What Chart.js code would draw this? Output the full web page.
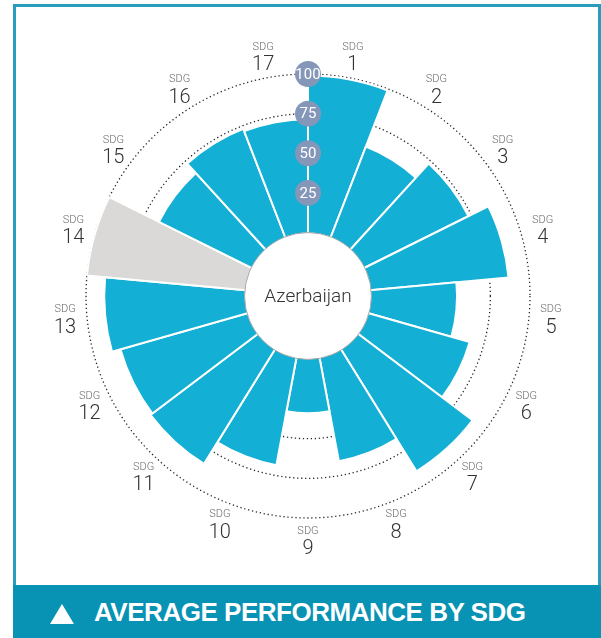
<!DOCTYPE html>
<html>
<head>
<meta charset="utf-8">
<script src="https://cdn.jsdelivr.net/npm/chart.js@4.4.1/dist/chart.umd.min.js"></script>
<style>
  html, body { margin: 0; padding: 0; background: #fff; }
  body { width: 601px; height: 638px; position: relative; overflow: hidden; }
  #frame { position: absolute; left: 13px; top: 4px; width: 588px; height: 590px;
           border: 3px solid #2a9cbc; border-bottom: none; box-sizing: border-box; }
  #chartBox { position: absolute; left: 0; top: 0; width: 601px; height: 638px; }
  #banner { position: absolute; left: 13px; top: 585px; width: 588px; height: 53px;
            background: #0892b3; color: #fff; }
  #tri { position: absolute; left: 37px; top: 19px; width: 0; height: 0;
         border-left: 12.5px solid transparent; border-right: 12.5px solid transparent;
         border-bottom: 20px solid #fff; }
  #title { position: absolute; left: 81px; top: 10px; line-height: 34px; white-space: nowrap;
           font-family: "Liberation Sans", Arial, sans-serif;
           font-weight: bold; font-size: 26px; }
</style>
</head>
<body>
<div id="frame"></div>
<div id="chartBox"><canvas id="c" width="601" height="638"></canvas></div>
<div id="banner"><div id="tri"></div><span id="title"></span></div>
<script>
// ---- data ----
const sdgNumbers = ['1','2','3','4','5','6','7','8','9','10','11','12','13','14','15','16','17'];
const scores     = [99, 61, 73, 87, 54, 66, 90, 66, 34, 68.5, 84.5, 83, 88.5, null, 65, 73, 71.5];
const tickValues = [25, 50, 75, 100];
const countryName = 'Azerbaijan';
const prefixLabel = 'SDG';
const chartTitle = 'AVERAGE PERFORMANCE BY SDG';

// styles
const BAR_BLUE = '#13afd4';
const NO_DATA_GREY = '#dad9d7';
const BADGE = '#8597b9';

const titleEl = document.getElementById('title');
titleEl.textContent = chartTitle;
// fit title to the width it occupies in the reference banner
(function fitTitle() {
  const target = 432;
  const w = titleEl.getBoundingClientRect().width;
  const ls = (target - w) / (chartTitle.length - 1);
  titleEl.style.letterSpacing = ls.toFixed(2) + 'px';
})();

const scaleMin = -40, scaleMax = 100;
const plotData = scores.map(v => v === null ? scaleMax : v);
const colors = scores.map(v => v === null ? NO_DATA_GREY : BAR_BLUE);

const overlay = {
  id: 'overlay',
  afterDatasetsDraw(chart) {
    const s = chart.scales.r;
    const ctx = chart.ctx;
    const r0 = s.getDistanceFromCenterForValue(0);
    ctx.save();
    ctx.beginPath();
    ctx.arc(s.xCenter, s.yCenter, r0, 0, Math.PI * 2);
    ctx.fillStyle = '#fff';
    ctx.fill();
    ctx.lineWidth = 1;
    ctx.strokeStyle = '#a8a8a8';
    ctx.stroke();
    ctx.fillStyle = '#333';
    ctx.font = '300 19px Roboto, "Open Sans", sans-serif';
    ctx.textAlign = 'center';
    ctx.textBaseline = 'middle';
    ctx.fillText(countryName, s.xCenter, s.yCenter + 1);
    ctx.restore();
  },
  afterDraw(chart) {
    const s = chart.scales.r;
    const ctx = chart.ctx;
    ctx.save();
    ctx.textAlign = 'center';
    ctx.textBaseline = 'middle';
    // tick badges along the first spoke
    tickValues.forEach(v => {
      const p = s.getPointPositionForValue(0, v);
      ctx.beginPath();
      ctx.arc(p.x, p.y, 13, 0, Math.PI * 2);
      ctx.fillStyle = BADGE;
      ctx.fill();
      ctx.fillStyle = '#fff';
      ctx.font = '15px "Liberation Sans Narrow", Roboto, sans-serif';
      ctx.fillText(String(v), p.x, p.y + 1);
    });
    // SDG labels at the middle of each wedge
    sdgNumbers.forEach((n, i) => {
      const p = s.getPointPosition(i + 0.5, s.drawingArea + 22);
      ctx.fillStyle = '#6a6a6a';
      ctx.font = '300 11px Roboto, "Open Sans", sans-serif';
      ctx.fillText(prefixLabel, p.x, p.y - 9);
      ctx.fillStyle = '#333';
      ctx.font = '300 20px Roboto, "Open Sans", sans-serif';
      ctx.fillText(n, p.x, p.y + 9);
    });
    ctx.restore();
  }
};

new Chart(document.getElementById('c'), {
  type: 'polarArea',
  data: {
    labels: sdgNumbers.map(n => prefixLabel + ' ' + n),
    datasets: [{
      data: plotData,
      backgroundColor: colors,
      borderColor: '#ffffff',
      borderWidth: 2
    }]
  },
  options: {
    responsive: false,
    animation: false,
    layout: { padding: { left: 86, top: 74, right: 71, bottom: 120 } },
    plugins: { legend: { display: false }, tooltip: { enabled: false } },
    scales: {
      r: {
        min: scaleMin,
        max: scaleMax,
        startAngle: 0,
        z: 1,
        afterBuildTicks: (scale) => { scale.ticks = tickValues.map(v => ({ value: v })); },
        ticks: { display: false },
        pointLabels: { display: false },
        angleLines: { display: false },
        grid: { circular: true, color: '#2a2a2a', lineWidth: 1.3, borderDash: [1.3, 2.7] },
        border: { dash: [1.3, 2.7] }
      }
    }
  },
  plugins: [overlay]
});
</script>
</body>
</html>
